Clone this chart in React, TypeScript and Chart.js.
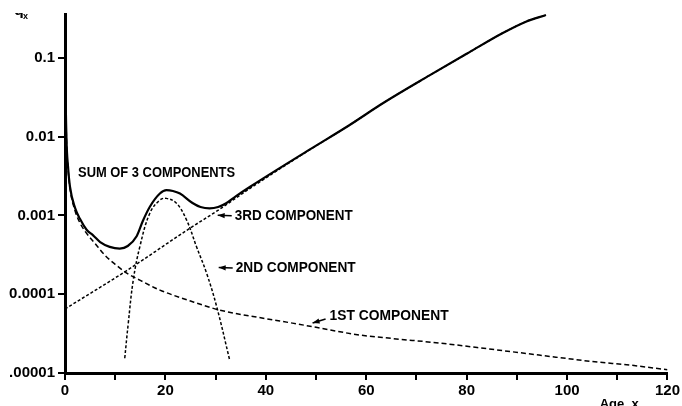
import React, { useEffect, useRef } from "react";
import { Chart, registerables } from "chart.js";

Chart.register(...registerables);

// Age values (x) and q_x values (y)
const ages1 = [0, 0.1, 0.3, 0.6, 1, 2, 3, 4, 6, 8, 10, 12.3, 15, 18.9, 25, 30.8, 40, 45.3, 50, 58.6, 65, 74.6, 85, 94.4, 105, 113, 120];
const comp1 = [0.4, 0.05, 0.009, 0.004, 0.0022, 0.00115, 0.0008, 0.00063, 0.00044, 0.00031, 0.00024, 0.000186, 0.00015, 0.000113, 0.000082, 0.000063, 0.000049, 0.000043, 0.000038, 0.0000304, 0.0000275, 0.000024, 0.00002, 0.0000169, 0.000014, 0.0000125, 0.000011];

const ages2 = [11.9, 12.6, 13.6, 14.9, 16.9, 18.9, 20.2, 22.2, 24.2, 26.2, 28.2, 30.2, 32.8];
const comp2 = [1.54e-5, 4.27e-5, 1.52e-4, 4.0e-4, 1.07e-3, 1.57e-3, 1.65e-3, 1.43e-3, 8.8e-4, 4.0e-4, 1.85e-4, 7.0e-5, 1.46e-5];

const ages3 = [0, 12.3, 24.9, 30.8, 36.8, 48.7, 56.7, 63.3, 72.6, 80.5, 87.1, 91.8, 95.8];
const comp3 = [6.5e-5, 2.0e-4, 6.9e-4, 1.2e-3, 2.2e-3, 6.8e-3, 1.41e-2, 2.66e-2, 6.0e-2, 0.118, 0.206, 0.289, 0.351];

const agesSum = [0, 0.1, 0.3, 0.6, 1, 2, 3, 4.3, 5.6, 7, 8.9, 10.9, 12.5, 14.3, 15.5, 16.9, 18.9, 20.2, 21.5, 22.9, 25.4, 27, 28.8, 30.5, 32.1, 34, 36.8, 48.7, 56.7, 63.3, 72.6, 80.5, 87.1, 91.8, 95.8];
const sumVals = [0.5, 0.05, 0.0092, 0.0042, 0.0023, 0.00125, 0.0009, 0.00066, 0.00056, 0.00046, 0.0004, 0.00038, 0.00041, 0.00055, 0.00085, 0.00129, 0.0019, 0.0021, 0.00205, 0.0019, 0.00144, 0.00128, 0.00123, 0.00128, 0.00143, 0.00175, 0.0023, 0.00685, 0.0141, 0.0266, 0.0601, 0.118, 0.206, 0.289, 0.351];

const yTickValues = [1e-5, 1e-4, 1e-3, 1e-2, 1e-1];
const yTickLabels = [".00001", "0.0001", "0.001", "0.01", "0.1"];

const noteTexts = ["SUM OF 3 COMPONENTS", "3RD COMPONENT", "2ND COMPONENT", "1ST COMPONENT"];
const noteAges = [2.6, 33.8, 34.0, 52.7];
const noteValues = [3.47e-3, 9.9e-4, 2.15e-4, 5.3e-5];

const xTitle = "Age  x";

const toPoints = (xs: number[], ys: number[]) => xs.map((x, i) => ({ x, y: ys[i] }));

const FONT = '"Liberation Sans", Arial, sans-serif';

const annotationPlugin = {
  id: "notes",
  afterDraw(chart: any) {
    const ctx = chart.ctx as CanvasRenderingContext2D;
    const xs = chart.scales.x;
    const ys = chart.scales.y;
    const widths = [157, 118, 120, 119];
    const arrows = ["none", "left", "left", "slant"];
    ctx.save();
    ctx.fillStyle = "#000";
    ctx.strokeStyle = "#000";
    noteTexts.forEach((t, i) => {
      const px = xs.getPixelForValue(noteAges[i]);
      const py = ys.getPixelForValue(noteValues[i]);
      ctx.font = `bold 14px ${FONT}`;
      ctx.textBaseline = "middle";
      ctx.textAlign = "left";
      const w = ctx.measureText(t).width;
      const sx = widths[i] / w;
      ctx.save();
      ctx.translate(px, py);
      ctx.scale(sx, 1);
      ctx.fillText(t, 0, 0);
      ctx.restore();
      const drawArrow = (x0: number, y0: number, x1: number, y1: number) => {
        ctx.lineWidth = 1.5;
        ctx.beginPath();
        ctx.moveTo(x0, y0);
        ctx.lineTo(x1, y1);
        ctx.stroke();
        const ang = Math.atan2(y1 - y0, x1 - x0);
        const hl = 7, hw = 2.6;
        ctx.beginPath();
        ctx.moveTo(x1, y1);
        ctx.lineTo(x1 - hl * Math.cos(ang) - hw * Math.sin(ang), y1 - hl * Math.sin(ang) + hw * Math.cos(ang));
        ctx.lineTo(x1 - hl * Math.cos(ang) + hw * Math.sin(ang), y1 - hl * Math.sin(ang) - hw * Math.cos(ang));
        ctx.closePath();
        ctx.fill();
      };
      if (arrows[i] === "left") drawArrow(px - 3, py, px - 17, py - 0.5);
      if (arrows[i] === "slant") drawArrow(px - 4, py + 3, px - 17, py + 7);
    });
    // axis titles
    ctx.font = `bold 13px ${FONT}`;
    ctx.textBaseline = "top";
    ctx.textAlign = "left";
    ctx.fillText(xTitle, xs.getPixelForValue(106.5), chart.chartArea.bottom + 25);
    ctx.save();
    ctx.beginPath();
    ctx.rect(0, 13, 60, 20);
    ctx.clip();
    ctx.font = `bold 16px ${FONT}`;
    ctx.textBaseline = "alphabetic";
    ctx.fillText("q", 14, 14.5);
    ctx.font = `bold 9px ${FONT}`;
    ctx.fillText("x", 23, 18.5);
    ctx.restore();
    ctx.restore();
  },
};

export default function App() {
  const ref = useRef<HTMLCanvasElement | null>(null);
  useEffect(() => {
    if (!ref.current) return;
    const chart = new Chart(ref.current, {
      type: "line",
      data: {
        datasets: [
          {
            label: "Sum of 3 components",
            data: toPoints(agesSum, sumVals),
            borderColor: "#000",
            borderWidth: 2.2,
            pointRadius: 0,
            cubicInterpolationMode: "monotone",
          },
          {
            label: "1st component",
            data: toPoints(ages1, comp1),
            borderColor: "#000",
            borderWidth: 1.5,
            borderDash: [5, 3],
            pointRadius: 0,
            cubicInterpolationMode: "monotone",
          },
          {
            label: "2nd component",
            data: toPoints(ages2, comp2),
            borderColor: "#000",
            borderWidth: 1.5,
            borderDash: [3, 2],
            pointRadius: 0,
            tension: 0.4,
          },
          {
            label: "3rd component",
            data: toPoints(ages3, comp3),
            borderColor: "#000",
            borderWidth: 1.5,
            borderDash: [3, 2],
            pointRadius: 0,
            cubicInterpolationMode: "monotone",
          },
        ],
      },
      options: {
        animation: false,
        responsive: false,
        layout: { padding: { top: 14, right: 13, left: 0, bottom: 0 } },
        plugins: { legend: { display: false }, tooltip: { enabled: false } },
        scales: {
          x: {
            type: "linear",
            min: 0,
            max: 120,
            afterFit: (s: any) => {
              s.height = 33;
            },
            ticks: {
              stepSize: 10,
              autoSkip: false,
              maxRotation: 0,
              padding: 2,
              color: "#000",
              font: { family: FONT, size: 15, weight: "bold" },
              callback: (v: any) => (Number(v) % 20 === 0 ? String(v) : ""),
            },
            grid: { drawOnChartArea: false, drawTicks: true, tickLength: 7, color: "#000", lineWidth: 2 },
            border: { display: true, color: "#000", width: 3 },
          },
          y: {
            type: "logarithmic",
            min: 1e-5,
            max: 0.362,
            afterFit: (s: any) => {
              s.width = 65;
            },
            afterBuildTicks: (s: any) => {
              s.ticks = yTickValues.map((v) => ({ value: v }));
            },
            ticks: {
              autoSkip: false,
              padding: 3,
              color: "#000",
              font: { family: FONT, size: 15, weight: "bold" },
              callback: (v: any) => {
                const idx = yTickValues.findIndex((t) => Math.abs(Math.log10(t) - Math.log10(Number(v))) < 1e-6);
                return idx >= 0 ? yTickLabels[idx] : "";
              },
            },
            grid: { drawOnChartArea: false, drawTicks: true, tickLength: 7, color: "#000", lineWidth: 2 },
            border: { display: true, color: "#000", width: 3 },
          },
        },
      },
      plugins: [annotationPlugin],
    } as any);
    return () => chart.destroy();
  }, []);
  return (
    <div style={{ position: "fixed", left: 0, top: 0, width: 682, height: 406, background: "#fff" }}>
      <canvas ref={ref} width={682} height={406} style={{ display: "block" }} />
    </div>
  );
}
